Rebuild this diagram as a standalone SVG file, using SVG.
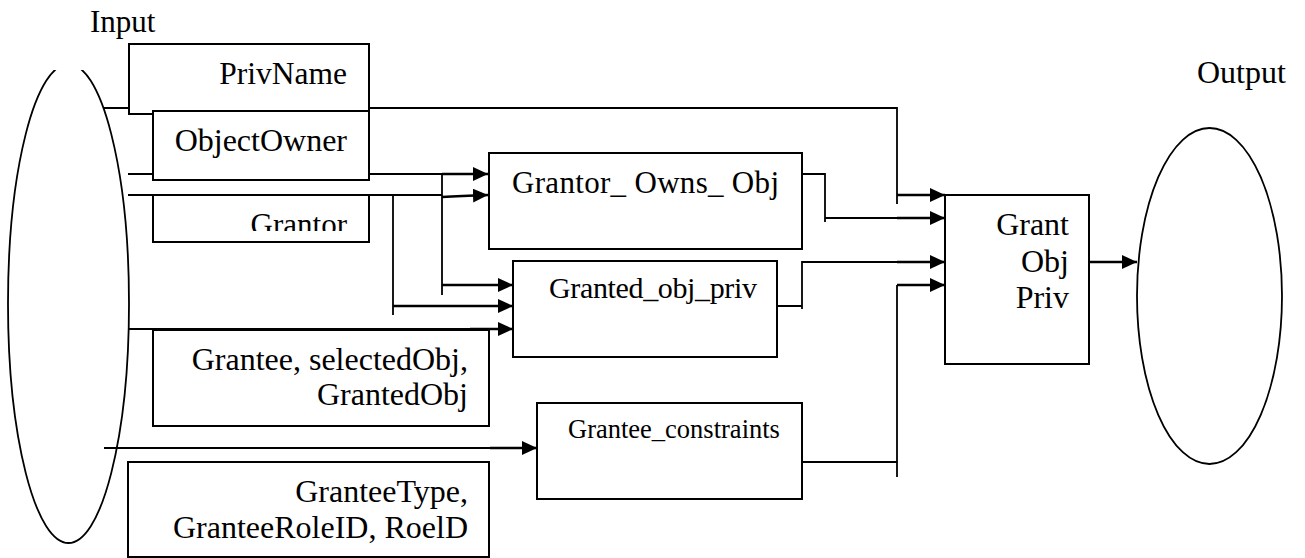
<svg xmlns="http://www.w3.org/2000/svg" width="1305" height="558" viewBox="0 0 1305 558">
  <style>
    .box { fill: #fff; stroke: #000; stroke-width: 2; }
    .oval { fill: none; stroke: #000; stroke-width: 1.8; }
    .t { font-family: 'Liberation Serif', Tinos, 'Times New Roman', Times, 'DejaVu Serif', serif; fill: #000; }
    .r { text-anchor: end; }
    .wire { fill: none; stroke: #000; stroke-width: 1.8; }
    .arr { fill: none; stroke: #000; stroke-width: 2.6; marker-end: url(#head); }
  </style>
  <defs>
    <marker id="head" markerUnits="userSpaceOnUse" markerWidth="16" markerHeight="16" refX="15" refY="7" orient="auto">
      <path d="M0,0 L15,7 L0,14 z" fill="#000"/>
    </marker>
    <clipPath id="inClip"><rect x="0" y="70" width="200" height="488"/></clipPath>
    <clipPath id="grantorClip"><rect x="153" y="195" width="216" height="36"/></clipPath>
  </defs>

  <!-- labels -->
  <text class="t" x="90" y="32" style="font-size:31px">Input</text>
  <text class="t" x="1197" y="83" style="font-size:32px">Output</text>

  <!-- input oval, top cut off -->
  <g id="input-oval">
    <ellipse class="oval" cx="68.5" cy="303.5" rx="60.5" ry="239.5" clip-path="url(#inClip)"/>
  </g>

  <!-- output oval -->
  <g id="output-oval">
    <ellipse class="oval" cx="1209.5" cy="296" rx="72.5" ry="168"/>
  </g>

  <!-- connectors -->
  <g id="connectors">
    <!-- PrivName path -->
    <path class="wire" d="M104,108 H129 M369,108 H897 V204"/>
    <path class="arr" d="M897,195 H945"/>
    <!-- ObjectOwner path -->
    <path class="wire" d="M128,174 H153 M369,174 H442 V295"/>
    <path class="arr" d="M442,174 H488"/>
    <path class="arr" d="M442,285 H513"/>
    <!-- Grantor path -->
    <path class="wire" d="M128,195 H442 M393,195 V315"/>
    <path class="arr" d="M442,197 Q460,196 488,195"/>
    <path class="arr" d="M393,306 H513"/>
    <!-- Grantee path -->
    <path class="wire" d="M128,329 H470"/>
    <path class="arr" d="M470,329 H513"/>
    <!-- GranteeType path -->
    <path class="wire" d="M104,448 H490"/>
    <path class="arr" d="M490,448 H537"/>
    <!-- Grantor_Owns_Obj to Grant box -->
    <path class="wire" d="M802,174 H825 V222 M825,218 H897"/>
    <path class="arr" d="M897,218 H945"/>
    <!-- Granted_obj_priv to Grant box -->
    <path class="wire" d="M777,306 H802 M802,261 V309 M802,262 H897"/>
    <path class="arr" d="M897,262 H945"/>
    <!-- Grantee_constraints to Grant box -->
    <path class="wire" d="M802,462 H897 M897,285 V477"/>
    <path class="arr" d="M897,285 H945"/>
    <!-- Grant box to output -->
    <path class="arr" d="M1089,262 H1137"/>
  </g>

  <!-- input fields -->
  <g id="privname">
    <rect class="box" x="129" y="44" width="240" height="70"/>
    <text class="t r" x="347" y="84" style="font-size:31.5px">PrivName</text>
  </g>
  <g id="objectowner">
    <rect class="box" x="153" y="111" width="216" height="69"/>
    <text class="t r" x="347" y="151" style="font-size:32px">ObjectOwner</text>
  </g>
  <g id="grantor">
    <rect class="box" x="153" y="195" width="216" height="47"/>
    <text class="t r" x="347" y="235" style="font-size:31px" clip-path="url(#grantorClip)">Grantor</text>
  </g>
  <g id="grantee">
    <rect class="box" x="153" y="330" width="336" height="96"/>
    <text class="t r" x="468" y="370" style="font-size:32px">Grantee, selectedObj,</text>
    <text class="t r" x="468" y="405" style="font-size:32px">GrantedObj</text>
  </g>
  <g id="granteetype">
    <rect class="box" x="128" y="462" width="361" height="95"/>
    <text class="t r" x="468" y="502" style="font-size:32px">GranteeType,</text>
    <text class="t r" x="468" y="538" style="font-size:32px">GranteeRoleID, RoelD</text>
  </g>

  <!-- process boxes -->
  <g id="grantor-owns-obj">
    <rect class="box" x="489" y="153" width="313" height="96"/>
    <text class="t" x="512" y="193" style="font-size:31px" textLength="267">Grantor_ Owns_ Obj</text>
  </g>
  <g id="granted-obj-priv">
    <rect class="box" x="513" y="261" width="264" height="96"/>
    <text class="t" x="549" y="298" style="font-size:30px" textLength="208">Granted_obj_priv</text>
  </g>
  <g id="grantee-constraints">
    <rect class="box" x="537" y="403" width="265" height="96"/>
    <text class="t" x="568" y="438" style="font-size:26.5px">Grantee_constraints</text>
  </g>
  <g id="grant-obj-priv">
    <rect class="box" x="945" y="195" width="144" height="169"/>
    <text class="t r" x="1069" y="235" style="font-size:32px">Grant</text>
    <text class="t r" x="1069" y="272" style="font-size:32px">Obj</text>
    <text class="t r" x="1069" y="308" style="font-size:32px">Priv</text>
  </g>
</svg>
